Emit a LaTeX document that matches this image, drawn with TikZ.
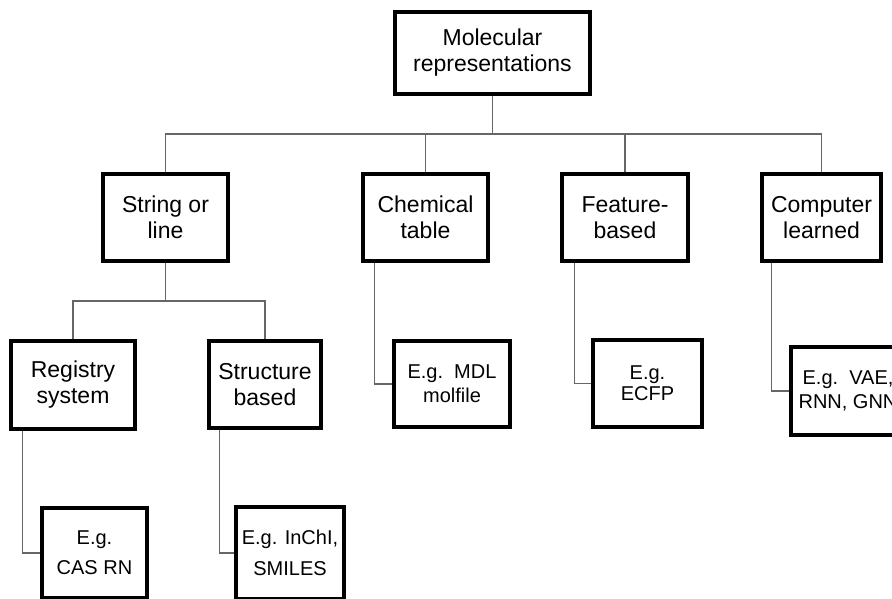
\documentclass[tikz,border=0pt]{standalone}
\usepackage{fontspec}
\setmainfont{Liberation Sans}
\tikzset{
  box/.style={draw, line width=3.2pt, align=center, inner sep=0pt,
    font=\fontsize{23}{26}\selectfont},
  exbox/.style={box, font=\fontsize{20}{24}\selectfont},
  link/.style={draw=black!60, line width=1.2pt}
}
\begin{document}
\begin{tikzpicture}[x=1pt, y=-1pt]
        \useasboundingbox (0,0) rectangle (892,598);
        \clip (0,0) rectangle (892,598);
        \node[box, minimum width=195, minimum height=82] (root) at (492.5, 53) {Molecular\\representations};
        \node[box, minimum width=125, minimum height=87] (str) at (165.5, 217.5) {String or\\line};
        \node[box, minimum width=125, minimum height=87] (chem) at (425.5, 217.5) {Chemical\\table};
        \node[box, minimum width=126, minimum height=87] (feat) at (625, 217.5) {Feature-\\based};
        \node[box, minimum width=119, minimum height=87] (comp) at (821.5, 217.5) {Computer\\learned};
        \node[box, minimum width=124, minimum height=88] (reg) at (73, 385) {Registry\\system};
        \node[box, minimum width=112, minimum height=87] (struc) at (265, 384.5) {Structure\\based};
        \node[exbox, minimum width=116, minimum height=86] (mdl) at (452, 384) {E.g.\ \ MDL\\molfile};
        \node[exbox, minimum width=109, minimum height=87, font=\fontsize{20}{21}\selectfont] (ecfp) at (647.5, 383.5) {E.g.\\ECFP};
        \node[exbox, minimum width=114, minimum height=88] (vae) at (848, 391) {E.g.\ \ VAE,\\RNN, GNN};
        \node[exbox, minimum width=105, minimum height=90, font=\fontsize{20}{30}\selectfont] (cas) at (94.5, 553) {E.g.\\CAS RN};
        \node[exbox, minimum width=108, minimum height=92, font=\fontsize{20}{31}\selectfont] (inchi) at (290, 553) {E.g. InChI,\\SMILES};
        \coordinate (j1) at (492.5, 134);
        \coordinate (j2) at (165.5, 301);
        % top level
        \draw[link] (root) to (j1);
        \draw[link] (str.north) |- (j1) -| (comp.north);
        \draw[link] (chem.north) to (chem.north |- j1);
        \draw[link] (feat.north) to (feat.north |- j1);
        % string or line
        \draw[link] (str) to (j2);
        \draw[link] (reg.north) |- (j2) -| (struc.north);
        % examples
        \draw[link] ([xshift=13]reg.south west) |- (cas.west);
        \draw[link] ([xshift=12]struc.south west) |- (inchi.west);
        \draw[link] ([xshift=13]chem.south west) |- (mdl.west);
        \draw[link] ([xshift=14]feat.south west) |- (ecfp.west);
        \draw[link] ([xshift=11]comp.south west) |- (vae.west);
    \end{tikzpicture}
\end{document}
